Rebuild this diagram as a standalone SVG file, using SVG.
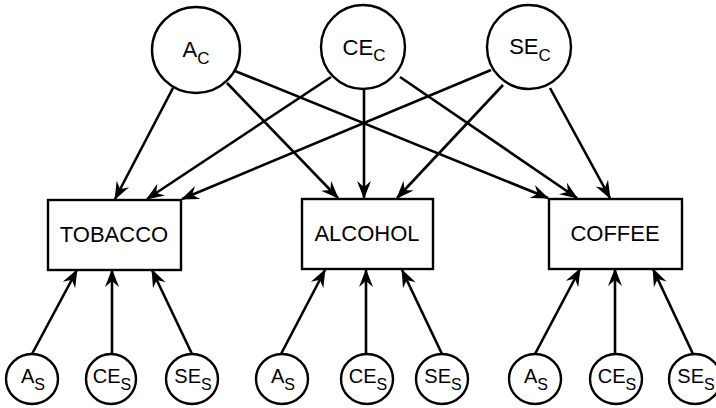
<svg xmlns="http://www.w3.org/2000/svg" width="716" height="408" viewBox="0 0 716 408">
<style>
  .n { fill: #fff; stroke: #000; stroke-width: 2.4; }
  .t { font-family: "Liberation Sans", Arial, sans-serif; fill: #000; }
  .lbl { font-size: 22px; text-anchor: middle; }
  .big { font-size: 22px; text-anchor: middle; }
  .sm { font-size: 20px; text-anchor: middle; }
  .sub { font-size: 17px; }
  .subs { font-size: 16px; }
  .c line { stroke: #000; stroke-width: 2.6; marker-end: url(#ah); }
</style>
<defs>
  <marker id="ah" markerUnits="userSpaceOnUse" markerWidth="20" markerHeight="16" viewBox="-18 -8 20 16" refX="0" refY="0" orient="auto">
    <path d="M1,0 L-17,-7 L-11,0 L-17,7 Z" fill="#000"/>
  </marker>
</defs>
<g id="connectors" class="c">
  <line x1="173" y1="88" x2="115" y2="199"/>
  <line x1="227" y1="83" x2="338" y2="198"/>
  <line x1="235" y1="71" x2="548" y2="198"/>
  <line x1="331" y1="77" x2="147" y2="199"/>
  <line x1="364" y1="89" x2="364" y2="198"/>
  <line x1="400" y1="77" x2="577" y2="198"/>
  <line x1="491" y1="70" x2="182" y2="199"/>
  <line x1="503" y1="85" x2="397" y2="198"/>
  <line x1="550" y1="88" x2="610" y2="198"/>
  <line x1="32" y1="354" x2="77" y2="270"/>
  <line x1="112" y1="354" x2="112" y2="270"/>
  <line x1="192" y1="354" x2="152" y2="270"/>
  <line x1="281" y1="354" x2="325" y2="270"/>
  <line x1="366" y1="354" x2="366" y2="270"/>
  <line x1="442" y1="354" x2="402" y2="270"/>
  <line x1="535" y1="354" x2="580" y2="269"/>
  <line x1="615" y1="354" x2="615" y2="269"/>
  <line x1="693" y1="354" x2="653" y2="269"/>
</g>
<g id="Ac"><ellipse class="n" cx="196" cy="50" rx="44" ry="43"/><text class="t big" x="196" y="57">A<tspan class="sub" dy="7">C</tspan></text></g>
<g id="CEc"><ellipse class="n" cx="363" cy="47" rx="42" ry="42"/><text class="t big" x="364" y="55">CE<tspan class="sub" dy="6">C</tspan></text></g>
<g id="SEc"><ellipse class="n" cx="529" cy="47" rx="42" ry="42"/><text class="t big" x="530" y="54">SE<tspan class="sub" dy="7">C</tspan></text></g>
<g id="tobacco"><rect class="n" x="48" y="200" width="133" height="70"/><text class="t lbl" x="114" y="242">TOBACCO</text></g>
<g id="alcohol"><rect class="n" x="302" y="199" width="131" height="70"/><text class="t lbl" x="367" y="241">ALCOHOL</text></g>
<g id="coffee"><rect class="n" x="549" y="199" width="133" height="70"/><text class="t lbl" x="615" y="241">COFFEE</text></g>
<g id="As1"><ellipse class="n" cx="32" cy="379" rx="26" ry="25"/><text class="t sm" x="33" y="383">A<tspan class="subs" dy="7">S</tspan></text></g>
<g id="CEs1"><ellipse class="n" cx="111" cy="379" rx="25" ry="25"/><text class="t sm" x="112" y="383">CE<tspan class="subs" dy="7">S</tspan></text></g>
<g id="SEs1"><ellipse class="n" cx="192" cy="379" rx="26" ry="25"/><text class="t sm" x="193" y="383">SE<tspan class="subs" dy="7">S</tspan></text></g>
<g id="As2"><ellipse class="n" cx="282" cy="379" rx="26" ry="25"/><text class="t sm" x="283" y="383">A<tspan class="subs" dy="7">S</tspan></text></g>
<g id="CEs2"><ellipse class="n" cx="367" cy="379" rx="26" ry="25"/><text class="t sm" x="368" y="383">CE<tspan class="subs" dy="7">S</tspan></text></g>
<g id="SEs2"><ellipse class="n" cx="442" cy="379" rx="26" ry="25"/><text class="t sm" x="443" y="383">SE<tspan class="subs" dy="7">S</tspan></text></g>
<g id="As3"><ellipse class="n" cx="535" cy="379" rx="26" ry="25"/><text class="t sm" x="536" y="383">A<tspan class="subs" dy="7">S</tspan></text></g>
<g id="CEs3"><ellipse class="n" cx="616" cy="379" rx="26" ry="25"/><text class="t sm" x="617" y="383">CE<tspan class="subs" dy="7">S</tspan></text></g>
<g id="SEs3"><ellipse class="n" cx="695" cy="379" rx="26" ry="25"/><text class="t sm" x="696" y="383">SE<tspan class="subs" dy="7">S</tspan></text></g>
</svg>
